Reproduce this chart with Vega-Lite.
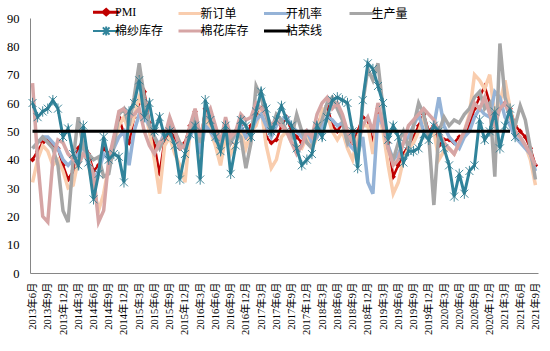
{
  "$schema": "https://vega.github.io/schema/vega-lite/v6.json",
  "width": 508,
  "height": 255,
  "autosize": {"type": "none"},
  "padding": {"left": 30, "top": 18, "right": 12, "bottom": 78},
  "background": "white",
  "config": {
    "view": {"stroke": null},
    "axis": {"grid": false, "ticks": false, "domainColor": "#868686", "domainWidth": 1, "labelColor": "#000"},
    "axisY": {"labelFont": "Liberation Serif", "labelFontSize": 12.5, "labelPadding": 11, "labelOverlap": false}
  },
  "data": {"values": [
    {"m":"2013年6月","PMI":40,"新订单":32,"开机率":44,"生产量":44,"棉纱库存":60,"棉花库存":67,"枯荣线":50},
    {"m":"2013年7月","PMI":43,"新订单":40,"开机率":46,"生产量":46,"棉纱库存":55,"棉花库存":40,"枯荣线":50},
    {"m":"2013年8月","PMI":46,"新订单":45,"开机率":48,"生产量":48,"棉纱库存":57,"棉花库存":20,"枯荣线":50},
    {"m":"2013年9月","PMI":47,"新订单":43,"开机率":48,"生产量":46,"棉纱库存":58,"棉花库存":18,"枯荣线":50},
    {"m":"2013年10月","PMI":45,"新订单":38,"开机率":46,"生产量":44,"棉纱库存":61,"棉花库存":40,"枯荣线":50},
    {"m":"2013年11月","PMI":44,"新订单":40,"开机率":44,"生产量":38,"棉纱库存":58,"棉花库存":47,"枯荣线":50},
    {"m":"2013年12月","PMI":38,"新订单":36,"开机率":40,"生产量":22,"棉纱库存":48,"棉花库存":46,"枯荣线":50},
    {"m":"2014年1月","PMI":33,"新订单":30,"开机率":38,"生产量":18,"棉纱库存":51,"棉花库存":42,"枯荣线":50},
    {"m":"2014年2月","PMI":36,"新订单":31,"开机率":40,"生产量":40,"棉纱库存":42,"棉花库存":40,"枯荣线":50},
    {"m":"2014年3月","PMI":44,"新订单":40,"开机率":42,"生产量":55,"棉纱库存":38,"棉花库存":38,"枯荣线":50},
    {"m":"2014年4月","PMI":47,"新订单":46,"开机率":45,"生产量":44,"棉纱库存":52,"棉花库存":42,"枯荣线":50},
    {"m":"2014年5月","PMI":42,"新订单":38,"开机率":38,"生产量":42,"棉纱库存":39,"棉花库存":40,"枯荣线":50},
    {"m":"2014年6月","PMI":36,"新订单":30,"开机率":33,"生产量":40,"棉纱库存":26,"棉花库存":35,"枯荣线":50},
    {"m":"2014年7月","PMI":38,"新订单":22,"开机率":36,"生产量":41,"棉纱库存":35,"棉花库存":18,"枯荣线":50},
    {"m":"2014年8月","PMI":44,"新订单":28,"开机率":42,"生产量":34,"棉纱库存":48,"棉花库存":22,"枯荣线":50},
    {"m":"2014年9月","PMI":42,"新订单":38,"开机率":40,"生产量":35,"棉纱库存":40,"棉花库存":40,"枯荣线":50},
    {"m":"2014年10月","PMI":46,"新订单":45,"开机率":44,"生产量":45,"棉纱库存":42,"棉花库存":48,"枯荣线":50},
    {"m":"2014年11月","PMI":55,"新订单":52,"开机率":48,"生产量":56,"棉纱库存":41,"棉花库存":57,"枯荣线":50},
    {"m":"2014年12月","PMI":49,"新订单":55,"开机率":50,"生产量":58,"棉纱库存":32,"棉花库存":58,"枯荣线":50},
    {"m":"2015年1月","PMI":46,"新订单":50,"开机率":38,"生产量":52,"棉纱库存":57,"棉花库存":55,"枯荣线":50},
    {"m":"2015年2月","PMI":55,"新订单":55,"开机率":50,"生产量":62,"棉纱库存":60,"棉花库存":56,"枯荣线":50},
    {"m":"2015年3月","PMI":60,"新订单":62,"开机率":56,"生产量":74,"棉纱库存":68,"棉花库存":58,"枯荣线":50},
    {"m":"2015年4月","PMI":64,"新订单":58,"开机率":55,"生产量":62,"棉纱库存":55,"棉花库存":50,"枯荣线":50},
    {"m":"2015年5月","PMI":53,"新订单":50,"开机率":52,"生产量":52,"棉纱库存":60,"棉花库存":45,"枯荣线":50},
    {"m":"2015年6月","PMI":45,"新订单":40,"开机率":48,"生产量":48,"棉纱库存":50,"棉花库存":42,"枯荣线":50},
    {"m":"2015年7月","PMI":35,"新订单":28,"开机率":45,"生产量":44,"棉纱库存":55,"棉花库存":46,"枯荣线":50},
    {"m":"2015年8月","PMI":47,"新订单":45,"开机率":50,"生产量":48,"棉纱库存":48,"棉花库存":48,"枯荣线":50},
    {"m":"2015年9月","PMI":50,"新订单":48,"开机率":52,"生产量":53,"棉纱库存":50,"棉花库存":55,"枯荣线":50},
    {"m":"2015年10月","PMI":48,"新订单":42,"开机率":50,"生产量":50,"棉纱库存":45,"棉花库存":50,"枯荣线":50},
    {"m":"2015年11月","PMI":44,"新订单":38,"开机率":45,"生产量":46,"棉纱库存":33,"棉花库存":44,"枯荣线":50},
    {"m":"2015年12月","PMI":46,"新订单":32,"开机率":44,"生产量":44,"棉纱库存":42,"棉花库存":45,"枯荣线":50},
    {"m":"2016年1月","PMI":52,"新订单":50,"开机率":48,"生产量":50,"棉纱库存":49,"棉花库存":52,"枯荣线":50},
    {"m":"2016年2月","PMI":57,"新订单":55,"开机率":52,"生产量":56,"棉纱库存":52,"棉花库存":58,"枯荣线":50},
    {"m":"2016年3月","PMI":45,"新订单":40,"开机率":42,"生产量":46,"棉纱库存":33,"棉花库存":48,"枯荣线":50},
    {"m":"2016年4月","PMI":58,"新订单":55,"开机率":52,"生产量":56,"棉纱库存":61,"棉花库存":55,"枯荣线":50},
    {"m":"2016年5月","PMI":53,"新订单":50,"开机率":50,"生产量":54,"棉纱库存":54,"棉花库存":58,"枯荣线":50},
    {"m":"2016年6月","PMI":48,"新订单":45,"开机率":47,"生产量":48,"棉纱库存":48,"棉花库存":52,"枯荣线":50},
    {"m":"2016年7月","PMI":44,"新订单":38,"开机率":45,"生产量":46,"棉纱库存":43,"棉花库存":46,"枯荣线":50},
    {"m":"2016年8月","PMI":50,"新订单":48,"开机率":50,"生产量":52,"棉纱库存":52,"棉花库存":55,"枯荣线":50},
    {"m":"2016年9月","PMI":46,"新订单":42,"开机率":46,"生产量":46,"棉纱库存":35,"棉花库存":48,"枯荣线":50},
    {"m":"2016年10月","PMI":50,"新订单":46,"开机率":49,"生产量":50,"棉纱库存":45,"棉花库存":50,"枯荣线":50},
    {"m":"2016年11月","PMI":52,"新订单":50,"开机率":52,"生产量":48,"棉纱库存":54,"棉花库存":56,"枯荣线":50},
    {"m":"2016年12月","PMI":48,"新订单":44,"开机率":48,"生产量":37,"棉纱库存":52,"棉花库存":54,"枯荣线":50},
    {"m":"2017年1月","PMI":52,"新订单":50,"开机率":50,"生产量":46,"棉纱库存":48,"棉花库存":55,"枯荣线":50},
    {"m":"2017年2月","PMI":55,"新订单":52,"开机率":54,"生产量":66,"棉纱库存":57,"棉花库存":60,"枯荣线":50},
    {"m":"2017年3月","PMI":58,"新订单":58,"开机率":56,"生产量":62,"棉纱库存":64,"棉花库存":58,"枯荣线":50},
    {"m":"2017年4月","PMI":48,"新订单":45,"开机率":52,"生产量":55,"棉纱库存":58,"棉花库存":56,"枯荣线":50},
    {"m":"2017年5月","PMI":46,"新订单":37,"开机率":48,"生产量":50,"棉纱库存":50,"棉花库存":52,"枯荣线":50},
    {"m":"2017年6月","PMI":47,"新订单":40,"开机率":52,"生产量":56,"棉纱库存":54,"棉花库存":54,"枯荣线":50},
    {"m":"2017年7月","PMI":52,"新订单":48,"开机率":54,"生产量":54,"棉纱库存":59,"棉花库存":52,"枯荣线":50},
    {"m":"2017年8月","PMI":55,"新订单":50,"开机率":55,"生产量":50,"棉纱库存":54,"棉花库存":50,"枯荣线":50},
    {"m":"2017年9月","PMI":50,"新订单":46,"开机率":52,"生产量":48,"棉纱库存":52,"棉花库存":46,"枯荣线":50},
    {"m":"2017年10月","PMI":48,"新订单":45,"开机率":50,"生产量":56,"棉纱库存":44,"棉花库存":42,"枯荣线":50},
    {"m":"2017年11月","PMI":46,"新订单":44,"开机率":48,"生产量":50,"棉纱库存":38,"棉花库存":45,"枯荣线":50},
    {"m":"2017年12月","PMI":50,"新订单":48,"开机率":50,"生产量":46,"棉纱库存":40,"棉花库存":50,"枯荣线":50},
    {"m":"2018年1月","PMI":48,"新订单":44,"开机率":46,"生产量":44,"棉纱库存":42,"棉花库存":48,"枯荣线":50},
    {"m":"2018年2月","PMI":51,"新订单":48,"开机率":48,"生产量":50,"棉纱库存":52,"棉花库存":56,"枯荣线":50},
    {"m":"2018年3月","PMI":57,"新订单":58,"开机率":52,"生产量":54,"棉纱库存":48,"棉花库存":60,"枯荣线":50},
    {"m":"2018年4月","PMI":59,"新订单":56,"开机率":55,"生产量":60,"棉纱库存":55,"棉花库存":62,"枯荣线":50},
    {"m":"2018年5月","PMI":52,"新订单":50,"开机率":54,"生产量":62,"棉纱库存":61,"棉花库存":58,"枯荣线":50},
    {"m":"2018年6月","PMI":50,"新订单":47,"开机率":52,"生产量":58,"棉纱库存":62,"棉花库存":60,"枯荣线":50},
    {"m":"2018年7月","PMI":53,"新订单":50,"开机率":53,"生产量":54,"棉纱库存":61,"棉花库存":56,"枯荣线":50},
    {"m":"2018年8月","PMI":48,"新订单":44,"开机率":46,"生产量":46,"棉纱库存":60,"棉花库存":50,"枯荣线":50},
    {"m":"2018年9月","PMI":46,"新订单":40,"开机率":44,"生产量":50,"棉纱库存":50,"棉花库存":46,"枯荣线":50},
    {"m":"2018年10月","PMI":50,"新订单":48,"开机率":42,"生产量":40,"棉纱库存":37,"棉花库存":45,"枯荣线":50},
    {"m":"2018年11月","PMI":55,"新订单":52,"开机率":48,"生产量":60,"棉纱库存":61,"棉花库存":52,"枯荣线":50},
    {"m":"2018年12月","PMI":54,"新订单":52,"开机率":32,"生产量":72,"棉纱库存":74,"棉花库存":55,"枯荣线":50},
    {"m":"2019年1月","PMI":46,"新订单":42,"开机率":28,"生产量":68,"棉纱库存":72,"棉花库存":50,"枯荣线":50},
    {"m":"2019年2月","PMI":58,"新订单":56,"开机率":56,"生产量":74,"棉纱库存":66,"棉花库存":60,"枯荣线":50},
    {"m":"2019年3月","PMI":52,"新订单":50,"开机率":52,"生产量":58,"棉纱库存":60,"棉花库存":52,"枯荣线":50},
    {"m":"2019年4月","PMI":46,"新订单":38,"开机率":45,"生产量":44,"棉纱库存":47,"棉花库存":44,"枯荣线":50},
    {"m":"2019年5月","PMI":34,"新订单":28,"开机率":40,"生产量":40,"棉纱库存":52,"棉花库存":38,"枯荣线":50},
    {"m":"2019年6月","PMI":38,"新订单":32,"开机率":42,"生产量":46,"棉纱库存":48,"棉花库存":40,"枯荣线":50},
    {"m":"2019年7月","PMI":42,"新订单":40,"开机率":46,"生产量":50,"棉纱库存":39,"棉花库存":46,"枯荣线":50},
    {"m":"2019年8月","PMI":45,"新订单":44,"开机率":48,"生产量":44,"棉纱库存":43,"棉花库存":52,"枯荣线":50},
    {"m":"2019年9月","PMI":48,"新订单":46,"开机率":52,"生产量":52,"棉纱库存":43,"棉花库存":54,"枯荣线":50},
    {"m":"2019年10月","PMI":52,"新订单":50,"开机率":56,"生产量":60,"棉纱库存":44,"棉花库存":56,"枯荣线":50},
    {"m":"2019年11月","PMI":56,"新订单":55,"开机率":50,"生产量":56,"棉纱库存":49,"棉花库存":58,"枯荣线":50},
    {"m":"2019年12月","PMI":50,"新订单":48,"开机率":48,"生产量":48,"棉纱库存":47,"棉花库存":56,"枯荣线":50},
    {"m":"2020年1月","PMI":52,"新订单":50,"开机率":52,"生产量":24,"棉纱库存":52,"棉花库存":54,"枯荣线":50},
    {"m":"2020年2月","PMI":45,"新订单":40,"开机率":62,"生产量":50,"棉纱库存":50,"棉花库存":50,"枯荣线":50},
    {"m":"2020年3月","PMI":47,"新订单":43,"开机率":52,"生产量":55,"棉纱库存":44,"棉花库存":46,"枯荣线":50},
    {"m":"2020年4月","PMI":47,"新订单":44,"开机率":48,"生产量":52,"棉纱库存":38,"棉花库存":44,"枯荣线":50},
    {"m":"2020年5月","PMI":46,"新订单":42,"开机率":46,"生产量":54,"棉纱库存":27,"棉花库存":42,"枯荣线":50},
    {"m":"2020年6月","PMI":48,"新订单":46,"开机率":44,"生产量":53,"棉纱库存":35,"棉花库存":46,"枯荣线":50},
    {"m":"2020年7月","PMI":49,"新订单":50,"开机率":48,"生产量":56,"棉纱库存":28,"棉花库存":50,"枯荣线":50},
    {"m":"2020年8月","PMI":52,"新订单":56,"开机率":50,"生产量":58,"棉纱库存":36,"棉花库存":55,"枯荣线":50},
    {"m":"2020年9月","PMI":58,"新订单":70,"开机率":55,"生产量":62,"棉纱库存":38,"棉花库存":60,"枯荣线":50},
    {"m":"2020年10月","PMI":62,"新订单":68,"开机率":58,"生产量":64,"棉纱库存":54,"棉花库存":58,"枯荣线":50},
    {"m":"2020年11月","PMI":66,"新订单":65,"开机率":56,"生产量":58,"棉纱库存":47,"棉花库存":62,"枯荣线":50},
    {"m":"2020年12月","PMI":60,"新订单":70,"开机率":55,"生产量":60,"棉纱库存":50,"棉花库存":56,"枯荣线":50},
    {"m":"2021年1月","PMI":55,"新订单":55,"开机率":64,"生产量":34,"棉纱库存":57,"棉花库存":52,"枯荣线":50},
    {"m":"2021年2月","PMI":58,"新订单":60,"开机率":62,"生产量":81,"棉纱库存":44,"棉花库存":58,"枯荣线":50},
    {"m":"2021年3月","PMI":60,"新订单":68,"开机率":55,"生产量":62,"棉纱库存":52,"棉花库存":60,"枯荣线":50},
    {"m":"2021年4月","PMI":58,"新订单":58,"开机率":52,"生产量":56,"棉纱库存":58,"棉花库存":55,"枯荣线":50},
    {"m":"2021年5月","PMI":52,"新订单":50,"开机率":48,"生产量":52,"棉纱库存":48,"棉花库存":50,"枯荣线":null},
    {"m":"2021年6月","PMI":50,"新订单":48,"开机率":46,"生产量":59,"棉纱库存":null,"棉花库存":48,"枯荣线":null},
    {"m":"2021年7月","PMI":48,"新订单":45,"开机率":44,"生产量":54,"棉纱库存":null,"棉花库存":45,"枯荣线":null},
    {"m":"2021年8月","PMI":44,"新订单":40,"开机率":42,"生产量":44,"棉纱库存":null,"棉花库存":42,"枯荣线":null},
    {"m":"2021年9月","PMI":38,"新订单":31,"开机率":36,"生产量":33,"棉纱库存":null,"棉花库存":38,"枯荣线":null}
  ]},
  "encoding": {
    "x": {
      "field": "m", "type": "ordinal", "sort": null,
      "scale": {"type": "point", "padding": 0.5},
      "axis": {
        "title": null,
        "values": ["2013年6月","2013年9月","2013年12月","2014年3月","2014年6月","2014年9月","2014年12月","2015年3月","2015年6月","2015年9月","2015年12月","2016年3月","2016年6月","2016年9月","2016年12月","2017年3月","2017年6月","2017年9月","2017年12月","2018年3月","2018年6月","2018年9月","2018年12月","2019年3月","2019年6月","2019年9月","2019年12月","2020年3月","2020年6月","2020年9月","2020年12月","2021年3月","2021年6月","2021年9月"],
        "labelAngle": -90, "labelFont": "Liberation Serif, Noto Sans CJK SC", "labelFontSize": 10.5,
        "labelPadding": 9, "labelOverlap": false, "labelBound": false
      }
    }
  },
  "layer": [
    {
      "mark": {"type": "line", "strokeWidth": 2.5, "point": {"shape": "diamond", "size": 30, "filled": true}},
      "encoding": {
        "y": {"field": "PMI", "type": "quantitative", "title": null, "scale": {"domain": [0, 90]}, "axis": {"values": [0,10,20,30,40,50,60,70,80,90]}},
        "color": {
          "datum": "PMI", "type": "nominal",
          "scale": {
            "domain": ["PMI","新订单","开机率","生产量","棉纱库存","棉花库存","枯荣线"],
            "range": ["#C00000","#F9CDAE","#95B3D7","#A6A6A6","#31849B","#D6A5A5","#000000"]
          },
          "legend": {
            "title": null, "orient": "none", "legendX": 63, "legendY": -12, "columns": 4, "direction": "horizontal",
            "symbolType": "M-1,0H3.4", "symbolSize": 144, "symbolStrokeWidth": 3,
            "labelFont": "Liberation Serif, Noto Sans CJK SC", "labelFontSize": 12, "labelColor": "#000", "labelOffset": 10,
            "columnPadding": 8.5, "rowPadding": 1, "gridAlign": "all", "padding": 0,
            "encode": {
              "symbols": {
                "update": {
                  "shape": {"signal": "datum.value === 'PMI' ? 'M-1,0H3.4M0.7,0L1.2,-0.45L1.7,0L1.2,0.45Z' : datum.value === '棉纱库存' ? 'M-1,0H3.4M0.65,-0.6L1.75,0.6M0.65,0.6L1.75,-0.6M1.2,-0.75L1.2,0.75' : 'M-1,0H3.4'"},
                  "fill": {"signal": "datum.value === 'PMI' ? '#C00000' : 'transparent'"},
                  "strokeWidth": {"signal": "datum.value === '棉纱库存' ? 2 : 3"}
                }
              }
            }
          }
        }
      }
    },
    {"mark": {"type": "line", "strokeWidth": 3.5}, "encoding": {"y": {"field": "新订单", "type": "quantitative", "title": null, "axis": {"values": [0,10,20,30,40,50,60,70,80,90]}}, "color": {"datum": "新订单", "type": "nominal"}}},
    {"mark": {"type": "line", "strokeWidth": 3.5}, "encoding": {"y": {"field": "开机率", "type": "quantitative", "title": null, "axis": {"values": [0,10,20,30,40,50,60,70,80,90]}}, "color": {"datum": "开机率", "type": "nominal"}}},
    {"mark": {"type": "line", "strokeWidth": 3.5}, "encoding": {"y": {"field": "生产量", "type": "quantitative", "title": null, "axis": {"values": [0,10,20,30,40,50,60,70,80,90]}}, "color": {"datum": "生产量", "type": "nominal"}}},
    {"mark": {"type": "line", "strokeWidth": 3.5}, "encoding": {"y": {"field": "棉花库存", "type": "quantitative", "title": null, "axis": {"values": [0,10,20,30,40,50,60,70,80,90]}}, "color": {"datum": "棉花库存", "type": "nominal"}}},
    {"mark": {"type": "line", "strokeWidth": 3}, "encoding": {"y": {"field": "棉纱库存", "type": "quantitative", "title": null, "axis": {"values": [0,10,20,30,40,50,60,70,80,90]}}, "color": {"datum": "棉纱库存", "type": "nominal"}}},
    {"mark": {"type": "point", "shape": "M-1,-1L1,1M-1,1L1,-1M0,-1.3L0,1.3", "filled": false, "size": 64, "strokeWidth": 0.9, "opacity": 1}, "encoding": {"y": {"field": "棉纱库存", "type": "quantitative", "title": null, "axis": {"values": [0,10,20,30,40,50,60,70,80,90]}}, "color": {"value": "#2C7A8E"}}},
    {"mark": {"type": "line", "strokeWidth": 3}, "encoding": {"y": {"field": "枯荣线", "type": "quantitative", "title": null, "axis": {"values": [0,10,20,30,40,50,60,70,80,90]}}, "color": {"datum": "枯荣线", "type": "nominal"}}}
  ]
}
